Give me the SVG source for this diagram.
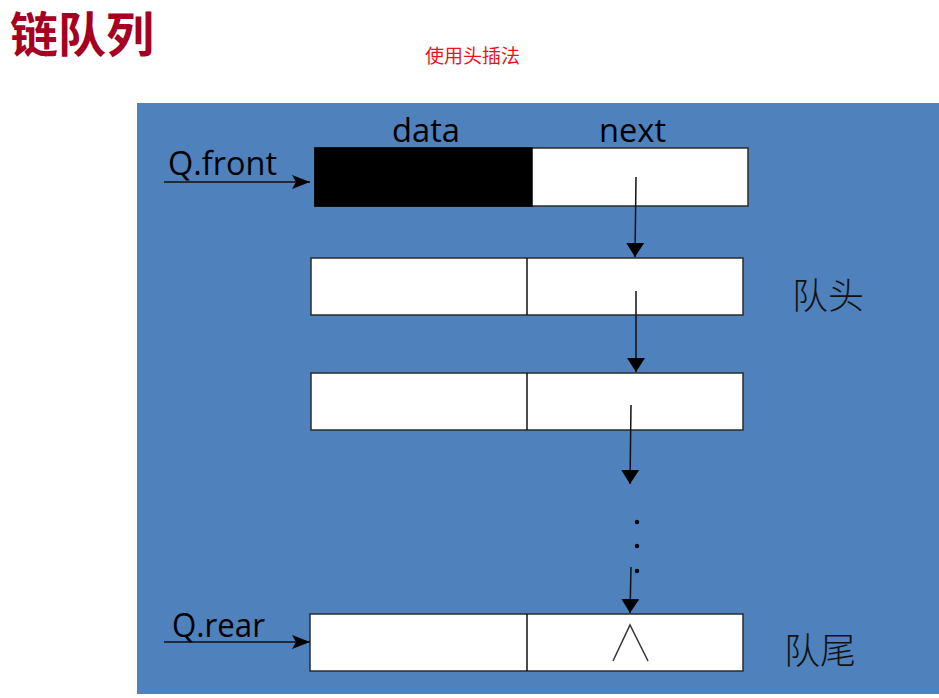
<svg xmlns="http://www.w3.org/2000/svg" width="939" height="698" viewBox="0 0 939 698">
<style>
.cell{fill:#ffffff;stroke:#2b2b2b;stroke-width:1.5}
.lbl{font-family:"Open Sans","Liberation Sans",sans-serif;font-size:32px;fill:#000}
.cn{font-family:"Noto Sans CJK SC",sans-serif;font-size:36px;fill:#111;font-weight:300}
.ln{stroke:#111;stroke-width:1.5;fill:none}
</style>
<defs>
<marker id="ah" markerUnits="userSpaceOnUse" markerWidth="20" markerHeight="20" viewBox="0 0 20 20" refX="18" refY="10" orient="auto">
<path d="M0,3 L18,10 L0,17 L4,10 Z" fill="#000"/>
</marker>
<marker id="av" markerUnits="userSpaceOnUse" markerWidth="20" markerHeight="20" viewBox="0 0 20 20" refX="14" refY="10" orient="auto">
<path d="M0,1 L14,10 L0,19 Z" fill="#000"/>
</marker>
</defs>
<rect x="0" y="0" width="939" height="698" fill="#ffffff"/>
<text x="10" y="52" font-family="'Noto Sans CJK SC',sans-serif" font-size="48" font-weight="bold" fill="#a50021">链队列</text>
<text x="425" y="63" font-family="'Noto Sans CJK SC',sans-serif" font-size="19" fill="#e8141b">使用头插法</text>
<rect x="137" y="103" width="802" height="591" fill="#4f81bd"/>
<g id="labels">
<text class="lbl" x="392" y="142" textLength="68" lengthAdjust="spacingAndGlyphs">data</text>
<text class="lbl" x="599" y="142" textLength="67" lengthAdjust="spacingAndGlyphs">next</text>
</g>
<g id="head-node">
<rect x="315" y="148" width="433" height="58" class="cell"/>
<rect x="315" y="148" width="217" height="58" fill="#000" stroke="#000" stroke-width="1.5"/>
</g>
<g id="node1">
<rect x="311" y="258" width="432" height="57" class="cell"/>
<line x1="527" y1="258" x2="527" y2="315" class="ln"/>
<text class="cn" x="792" y="309">队头</text>
</g>
<g id="node2">
<rect x="311" y="373" width="432" height="57" class="cell"/>
<line x1="527" y1="373" x2="527" y2="430" class="ln"/>
</g>
<g id="node-rear">
<rect x="310" y="614" width="433" height="57" class="cell"/>
<line x1="527" y1="614" x2="527" y2="671" class="ln"/>
<polyline points="613,661 630,625 648,661" fill="none" stroke="#333" stroke-width="1.5"/>
<text class="cn" x="784" y="664">队尾</text>
</g>
<g id="pointers">
<text class="lbl" x="168" y="175" textLength="109" lengthAdjust="spacingAndGlyphs">Q.front</text>
<text class="lbl" x="172" y="637" textLength="93" lengthAdjust="spacingAndGlyphs">Q.rear</text>
</g>
<g id="connectors">
<line x1="164" y1="182" x2="310" y2="182" class="ln" marker-end="url(#ah)"/>
<line x1="164" y1="642" x2="310" y2="642" class="ln" marker-end="url(#ah)"/>
<line x1="636" y1="177" x2="635" y2="257" class="ln" marker-end="url(#av)"/>
<line x1="636" y1="291" x2="636" y2="372" class="ln" marker-end="url(#av)"/>
<line x1="631" y1="405" x2="630" y2="484" class="ln" marker-end="url(#av)"/>
<line x1="631" y1="567" x2="630" y2="613" class="ln" marker-end="url(#av)"/>
<circle cx="637" cy="522" r="2.2" fill="#000"/>
<circle cx="637" cy="546" r="2.2" fill="#000"/>
<circle cx="637" cy="571" r="2.2" fill="#000"/>
</g>
</svg>
